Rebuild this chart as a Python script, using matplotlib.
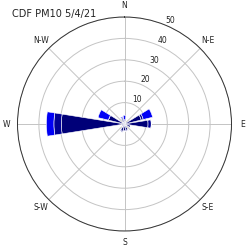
import numpy as np
import matplotlib
matplotlib.use("Agg")
import matplotlib.pyplot as plt

# 16 wind sectors, compass order
sectors = ['N', 'NNE', 'NE', 'ENE', 'E', 'ESE', 'SE', 'SSE',
           'S', 'SSW', 'SW', 'WSW', 'W', 'WNW', 'NW', 'NNW']
# stacked frequency bins (%)
bin_low = [1.5, 1.0, 0.5, 8.0, 11.0, 3.0, 1.0, 3.0, 3.0, 3.5, 1.5, 1.5, 29.5, 7.7, 1.0, 2.5]
bin_mid = [0.5, 0.0, 0.0, 1.0, 1.5, 0.0, 0.0, 0.5, 0.5, 0.5, 0.0, 0.0, 3.5, 0.0, 0.0, 0.5]
bin_high = [2.0, 0.0, 0.0, 4.5, 0.0, 0.0, 0.0, 0.0, 0.0, 0.0, 0.0, 0.0, 3.5, 5.0, 0.0, 0.5]
colors = ['#000078', '#000096', '#0000f5']

dir_labels = ['N', 'N-E', 'E', 'S-E', 'S', 'S-W', 'W', 'N-W']
radii = [10, 20, 30, 40, 50]

fig = plt.figure(figsize=(2.48, 2.47), dpi=100)
ax = fig.add_axes([17.5 / 248, 16 / 247, 214 / 248, 214 / 247], projection='polar')
ax.set_theta_zero_location('N')
ax.set_theta_direction(-1)

theta = np.deg2rad(np.arange(len(sectors)) * 360 / len(sectors))
width = np.deg2rad(360 / len(sectors)) * 0.8
bottom = np.zeros(len(sectors))
for vals, c in zip([bin_low, bin_mid, bin_high], colors):
    vals = np.array(vals)
    ax.bar(theta, vals, width=width, bottom=bottom, color=c,
           edgecolor='white', linewidth=0.4, zorder=3)
    bottom = bottom + vals

ax.set_ylim(0, 50)
ax.set_xticks(np.deg2rad(np.arange(0, 360, 45)))
ax.set_xticklabels(dir_labels, fontsize=5.5, color='#222222')
ax.set_rgrids(radii, labels=[str(r) for r in radii], angle=22.5,
              fontsize=5.5, color='#222222')
ax.tick_params(axis='x', pad=-2.5)
ax.grid(color='#c4c4c4', linewidth=0.7)
ax.spines['polar'].set_linewidth(0.7)
ax.spines['polar'].set_color('#333333')

fig.text(12 / 248, 1 - 14 / 247, 'CDF PM10 5/4/21', fontsize=7,
         va='center', ha='left', color='#222222')

fig.savefig('out.png', dpi=100)
